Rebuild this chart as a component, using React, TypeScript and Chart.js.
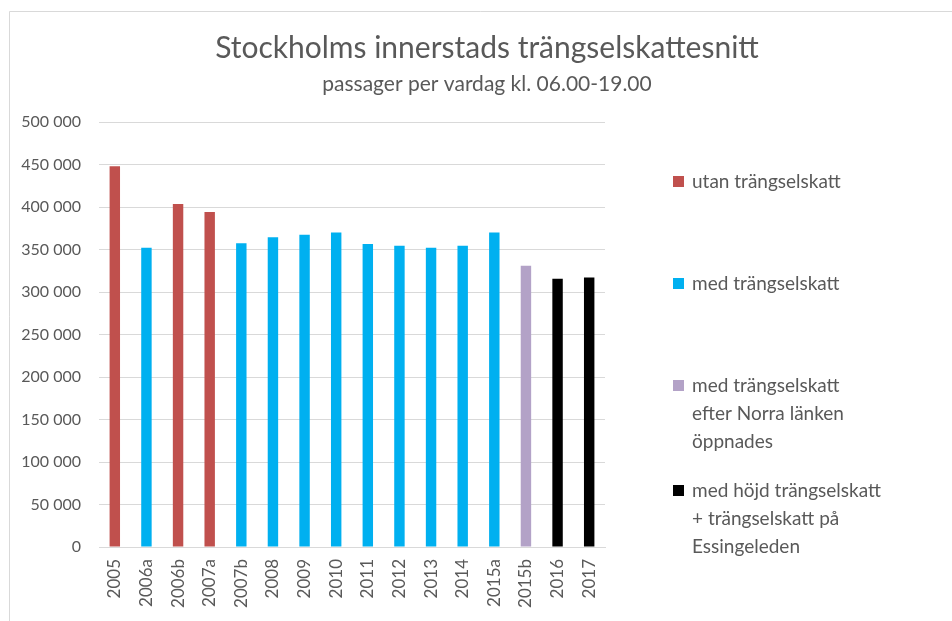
import React, { useEffect, useRef } from "react";
import { Chart, registerables } from "chart.js";

Chart.register(...registerables);

const categories = [
  "2005", "2006a", "2006b", "2007a", "2007b", "2008", "2009", "2010",
  "2011", "2012", "2013", "2014", "2015a", "2015b", "2016", "2017",
];

const utanValues = [448000, null, 403500, 394000, null, null, null, null, null, null, null, null, null, null, null, null];
const medValues = [null, 352000, null, null, 357500, 364500, 367500, 370000, 356500, 354500, 352000, 354500, 370000, null, null, null];
const norraValues = [null, null, null, null, null, null, null, null, null, null, null, null, null, 331000, null, null];
const hojdValues = [null, null, null, null, null, null, null, null, null, null, null, null, null, null, 315500, 317000];

const seriesLabels = [
  ["utan trängselskatt"],
  ["med trängselskatt"],
  ["med trängselskatt", "efter Norra länken", "öppnades"],
  ["med höjd trängselskatt", "+ trängselskatt på", "Essingeleden"],
];
const seriesColors = ["#C0504D", "#00B0F0", "#B3A2C7", "#000000"];

const titleText = "Stockholms innerstads trängselskattesnitt";
const subtitleText = "passager per vardag kl. 06.00-19.00";

const yTicks = { min: 0, max: 500000, step: 50000 };

const FONT = "Lato, 'Open Sans', sans-serif";
const TEXT_COLOR = "#595959";
const GRID_COLOR = "#d9d9d9";

function formatNum(v: number): string {
  return String(v).replace(/\B(?=(\d{3})+(?!\d))/g, " ");
}

const legendItemY = [182, 284, 386, 491];

const decorPlugin = {
  id: "decor",
  beforeDraw(chart: any) {
    const ctx = chart.ctx;
    ctx.save();
    ctx.fillStyle = "#ffffff";
    ctx.fillRect(0, 0, chart.width, chart.height);
    ctx.strokeStyle = GRID_COLOR;
    ctx.lineWidth = 1;
    ctx.beginPath();
    ctx.moveTo(9.5, chart.height);
    ctx.lineTo(9.5, 11.5);
    ctx.lineTo(chart.width, 11.5);
    ctx.stroke();
    ctx.restore();
  },
  afterDraw(chart: any) {
    const ctx = chart.ctx;
    ctx.save();
    ctx.fillStyle = TEXT_COLOR;
    ctx.textAlign = "center";
    ctx.textBaseline = "middle";
    ctx.font = `30px ${FONT}`;
    ctx.fillText(titleText, 487, 48);
    ctx.font = `21px ${FONT}`;
    ctx.fillText(subtitleText, 487, 84);

    ctx.textAlign = "left";
    ctx.font = `19px ${FONT}`;
    chart.data.datasets.forEach((ds: any, i: number) => {
      const y0 = legendItemY[i];
      ctx.fillStyle = ds.backgroundColor;
      ctx.fillRect(673, y0 - 6, 11, 11);
      ctx.fillStyle = TEXT_COLOR;
      const lines: string[] = ds.legendLines;
      lines.forEach((ln, j) => {
        ctx.fillText(ln, 692, y0 + j * 28);
      });
    });
    ctx.restore();
  },
};

export default function App() {
  const ref = useRef<HTMLCanvasElement | null>(null);

  useEffect(() => {
    if (!ref.current) return;
    const datasetsData = [utanValues, medValues, norraValues, hojdValues];
    const chart = new Chart(ref.current, {
      type: "bar",
      data: {
        labels: categories,
        datasets: datasetsData.map((d, i) => ({
          label: seriesLabels[i].join(" "),
          legendLines: seriesLabels[i],
          data: d,
          backgroundColor: seriesColors[i],
          borderWidth: 0,
          barPercentage: 0.33,
          categoryPercentage: 1,
          skipNull: true,
        })) as any,
      },
      options: {
        animation: false,
        responsive: true,
        maintainAspectRatio: false,
        layout: { padding: { left: 0, right: 347, top: 122, bottom: 0 } },
        plugins: {
          legend: { display: false },
          title: { display: false },
          tooltip: { enabled: false },
        },
        scales: {
          x: {
            stacked: true,
            grid: { display: false, drawTicks: false },
            border: { display: true, color: GRID_COLOR },
            ticks: {
              autoSkip: false,
              maxRotation: 90,
              minRotation: 90,
              padding: 12,
              color: TEXT_COLOR,
              font: { family: FONT, size: 17 },
            },
            afterFit: (scale: any) => {
              scale.height = 74;
            },
          },
          y: {
            stacked: true,
            min: yTicks.min,
            max: yTicks.max,
            grid: { color: GRID_COLOR, drawTicks: false },
            border: { display: false },
            ticks: {
              stepSize: yTicks.step,
              padding: 18,
              color: TEXT_COLOR,
              font: { family: FONT, size: 16 },
              callback: (v: any) => formatNum(Number(v)),
            },
            afterFit: (scale: any) => {
              scale.width = 99;
            },
          },
        },
      },
      plugins: [decorPlugin],
    });
    return () => chart.destroy();
  }, []);

  return (
    <div style={{ position: "fixed", left: 0, top: 0, width: 952, height: 621, background: "#fff" }}>
      <canvas ref={ref} />
    </div>
  );
}
